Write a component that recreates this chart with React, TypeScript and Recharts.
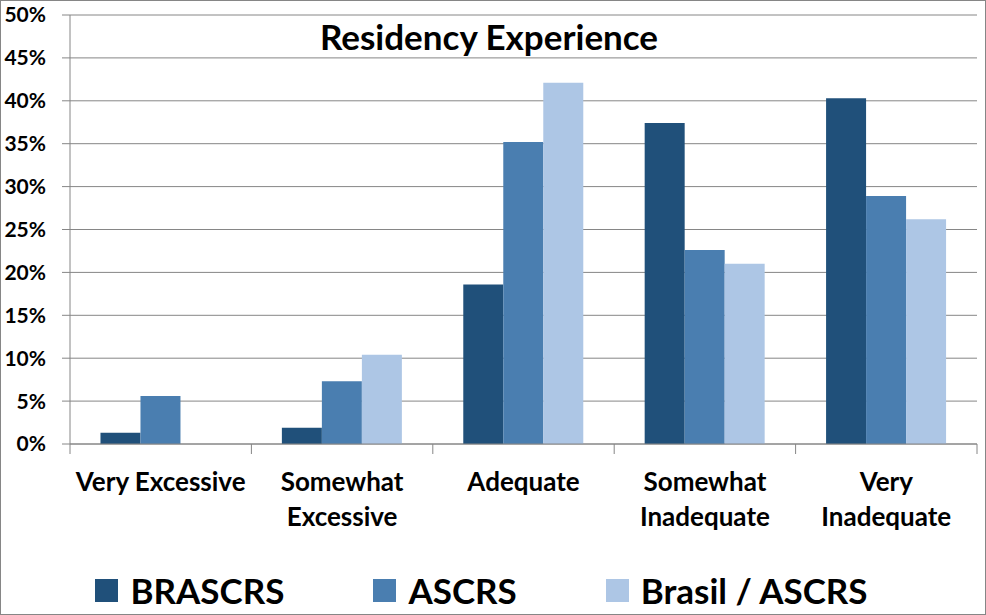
import { BarChart, Bar, XAxis, YAxis, CartesianGrid, Legend } from "recharts";

const categories = ["Very Excessive", "Somewhat Excessive", "Adequate", "Somewhat Inadequate", "Very Inadequate"];
const tickLines = [["Very Excessive"], ["Somewhat", "Excessive"], ["Adequate"], ["Somewhat", "Inadequate"], ["Very", "Inadequate"]];
const brascrs = [1.3, 1.9, 18.6, 37.4, 40.3];
const ascrs = [5.6, 7.3, 35.2, 22.6, 28.9];
const brasilAscrs = [0, 10.4, 42.1, 21.0, 26.2];
const yTicks = [0, 5, 10, 15, 20, 25, 30, 35, 40, 45, 50];

const seriesInfo = [
  { key: "brascrs", name: "BRASCRS", color: "#20507a" },
  { key: "ascrs", name: "ASCRS", color: "#4a7eb0" },
  { key: "brasil", name: "Brasil / ASCRS", color: "#adc6e5" },
];

const data = categories.map((c, i) => ({
  category: c,
  brascrs: brascrs[i],
  ascrs: ascrs[i],
  brasil: brasilAscrs[i],
}));

const FONT = "Lato, 'Noto Sans', sans-serif";
const GRID = "#868686";

function CategoryTick(props: any) {
  const { x, y, payload, index, visibleTicksCount } = props;
  const half = payload && payload.offset ? payload.offset : 90.7;
  const lines = tickLines[index] || [payload.value];
  const isLast = index === visibleTicksCount - 1;
  return (
    <g>
      <line x1={x - half} x2={x - half} y1={y} y2={y + 10} stroke={GRID} />
      {isLast && <line x1={x + half} x2={x + half} y1={y} y2={y + 10} stroke={GRID} />}
      {lines.map((t: string, i: number) => (
        <text
          key={i}
          x={x}
          y={y + 47 + i * 35}
          textAnchor="middle"
          fontFamily={FONT}
          fontWeight={700}
          fontSize={26}
          fill="#000"
        >
          {t}
        </text>
      ))}
    </g>
  );
}

function LegendContent() {
  return (
    <div style={{ display: "flex", justifyContent: "center", alignItems: "center", height: 50, paddingRight: 14 }}>
      {seriesInfo.map((s, i) => (
        <div key={s.key} style={{ display: "flex", alignItems: "center", marginLeft: i === 0 ? 0 : 89 }}>
          <div style={{ width: 23, height: 23, background: s.color, marginRight: 12 }} />
          <span style={{ fontFamily: FONT, fontWeight: 700, fontSize: 35, color: "#000", lineHeight: "50px" }}>{s.name}</span>
        </div>
      ))}
    </div>
  );
}

export default function App() {
  return (
    <div style={{ position: "absolute", left: 0, top: 0, width: 986, height: 615, background: "#fff" }}>
      <BarChart
        width={986}
        height={615}
        data={data}
        margin={{ top: 15, right: 9, left: 0, bottom: 0 }}
        barCategoryGap="16.8%"
        barGap={0}
      >
        <CartesianGrid vertical={false} stroke={GRID} strokeWidth={1} />
        <XAxis
          dataKey="category"
          height={121}
          axisLine={{ stroke: GRID }}
          tickLine={false}
          tickSize={0}
          tickMargin={0}
          interval={0}
          tick={<CategoryTick />}
        />
        <YAxis
          width={70}
          domain={[0, 50]}
          ticks={yTicks}
          interval={0}
          tickFormatter={(v: number) => `${v}%`}
          axisLine={{ stroke: GRID }}
          tickLine={{ stroke: GRID }}
          tickSize={8}
          tickMargin={16}
          tick={{ fontFamily: FONT, fontWeight: 700, fontSize: 21, fill: "#000" }}
        />
        <Legend verticalAlign="bottom" height={50} content={<LegendContent />} />
        {seriesInfo.map((s) => (
          <Bar key={s.key} dataKey={s.key} name={s.name} fill={s.color} isAnimationActive={false} />
        ))}
      </BarChart>
      <div
        style={{
          position: "absolute",
          left: 0,
          top: 16,
          width: 978,
          textAlign: "center",
          fontFamily: FONT,
          fontWeight: 700,
          fontSize: 35,
          color: "#000",
          lineHeight: "40px",
        }}
      >
        Residency Experience
      </div>
      <div
        style={{
          position: "absolute",
          left: 0,
          top: 0,
          width: 986,
          height: 615,
          boxSizing: "border-box",
          border: `1px solid ${GRID}`,
          pointerEvents: "none",
        }}
      />
    </div>
  );
}
